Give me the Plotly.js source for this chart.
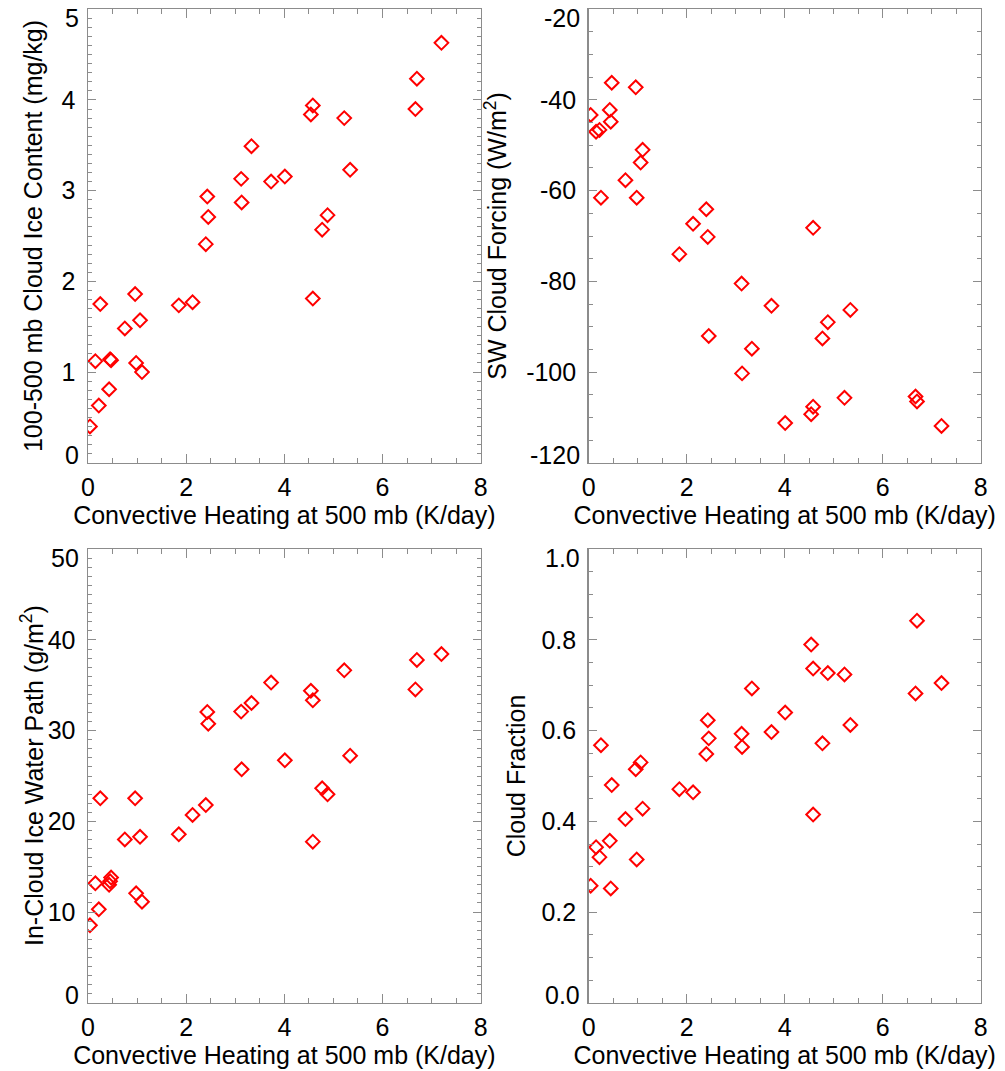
<!DOCTYPE html>
<html>
<head>
<meta charset="utf-8">
<script src="https://cdn.plot.ly/plotly-3.0.1.min.js"></script>
<style>html,body{margin:0;padding:0;background:#fff;}#chart{width:1005px;height:1071px;}</style>
</head>
<body>
<div id="chart"></div>
<script>
// Convective heating at 500 mb (K/day), shared by all four panels
const heating = [0.04, 0.15, 0.22, 0.25, 0.43, 0.45, 0.47, 0.75, 0.96, 0.98, 1.06, 1.10,
  1.85, 2.13, 2.40, 2.43, 2.45, 3.12, 3.13, 3.33, 3.73, 4.01, 4.54, 4.58, 4.58,
  4.77, 4.88, 5.22, 5.34, 6.67, 6.70, 7.20];
// 100-500 mb cloud ice content (mg/kg)
const iceContent = [0.40, 1.12, 0.63, 1.75, 0.81, 1.14, 1.13, 1.48, 1.86, 1.10, 1.57, 1.00,
  1.735, 1.77, 2.41, 2.935, 2.71, 3.13, 2.87, 3.49, 3.10, 3.155, 3.84, 3.94, 1.81,
  2.57, 2.73, 3.80, 3.23, 3.90, 4.235, 4.63];
// SW cloud forcing (W/m2)
const swForcing = [-43.3, -47.0, -46.6, -61.55, -42.2, -44.8, -36.2, -57.7, -37.2, -61.55, -53.8, -51.0,
  -74.0, -67.3, -64.1, -70.2, -92.05, -80.5, -100.3, -94.85, -85.4, -111.25, -109.3, -107.65, -68.2,
  -92.6, -89.0, -105.7, -86.3, -105.4, -106.5, -111.9];
// In-cloud ice water path (g/m2)
const iwp = [8.54, 13.17, 10.3, 22.54, 13.0, 13.4, 13.8, 18.0, 22.54, 12.06, 18.3, 11.14,
  18.57, 20.7, 21.8, 32.06, 30.77, 32.1, 25.74, 33.05, 35.3, 26.73, 34.4, 33.35, 17.76,
  23.64, 22.98, 36.65, 27.24, 34.55, 37.8, 38.45];
// Cloud fraction
const cloudFrac = [0.258, 0.343, 0.321, 0.568, 0.357, 0.252, 0.48, 0.405, 0.515, 0.316, 0.530, 0.428,
  0.471, 0.464, 0.5485, 0.623, 0.583, 0.593, 0.564, 0.693, 0.597, 0.640, 0.790, 0.737, 0.415,
  0.572, 0.727, 0.724, 0.6125, 0.682, 0.8425, 0.705];

// Tick values and labels
const xTickVals = [0, 2, 4, 6, 8];
const xTickText = ['0', '2', '4', '6', '8'];
const yTickVals = [
  [0, 1, 2, 3, 4, 5],
  [-120, -100, -80, -60, -40, -20],
  [0, 10, 20, 30, 40, 50],
  [0, 0.2, 0.4, 0.6, 0.8, 1.0]
];
const yTickText = [
  ['0', '1', '2', '3', '4', '5'],
  ['-120', '-100', '-80', '-60', '-40', '-20'],
  ['0', '10', '20', '30', '40', '50'],
  ['0.0', '0.2', '0.4', '0.6', '0.8', '1.0']
];

const xTitle = 'Convective Heating at 500 mb (K/day)';
const yTitles = ['100-500 mb Cloud Ice Content (mg/kg)', 'SW Cloud Forcing (W/m<sup>2</sup>)',
  'In-Cloud Ice Water Path (g/m<sup>2</sup>)', 'Cloud Fraction'];

const W = 1005, H = 1071;
const FONT = {family: 'Liberation Sans, Arial, sans-serif', size: 25, color: '#000'};
const GREY = '#8c8c8c';

const marker = {symbol: 'diamond-open', size: 10.5, color: '#ff0000', line: {width: 2, color: '#ff0000'}};
const ys = [iceContent, swForcing, iwp, cloudFrac];
const traces = ys.map((y, i) => ({
  type: 'scatter', mode: 'markers', x: heating, y: y,
  xaxis: i === 0 ? 'x' : 'x' + (i + 1), yaxis: i === 0 ? 'y' : 'y' + (i + 1),
  marker: marker, hoverinfo: 'x+y', showlegend: false
}));

const xd = [[88 / W, 480.7 / W], [588.7 / W, 980.7 / W]];
const yd = [[1 - 462.7 / H, 1 - 9.3 / H], [1 - 1002.7 / H, 1 - 549.3 / H]];
const yMinor = [0.1, 5, 1, 0.05];
const yTitleStandoff = [12, 12, 0, 8];

function xaxis(i) {
  return {
    domain: xd[i % 2], range: [xTickVals[0], xTickVals[xTickVals.length - 1]],
    tickvals: xTickVals, ticktext: xTickText, anchor: i === 0 ? 'y' : 'y' + (i + 1),
    showgrid: false, zeroline: false, showline: true, linecolor: GREY, linewidth: 1.5, mirror: 'ticks',
    ticks: 'inside', ticklen: 9, tickcolor: GREY, tickwidth: 1,
    minor: {dtick: 0.5, tick0: 0, ticks: 'inside', ticklen: 5, tickcolor: GREY, tickwidth: 1, showgrid: false},
    tickfont: FONT, ticklabelstandoff: 2, automargin: false,
    title: {text: xTitle, font: FONT, standoff: 6}
  };
}
function yaxis(i) {
  const v = yTickVals[i], t = yTickText[i];
  const n = v.length;
  const ax = {
    domain: yd[Math.floor(i / 2)], range: [v[0], v[n - 1]],
    // inner labels on the axis; end labels drawn as annotations, nudged inside like the reference
    tickvals: v.slice(1, n - 1), ticktext: t.slice(1, n - 1),
    anchor: i === 0 ? 'x' : 'x' + (i + 1),
    showgrid: false, zeroline: false, showline: true, linecolor: GREY, linewidth: 1.5, mirror: 'ticks',
    ticks: 'inside', ticklen: 8, tickcolor: GREY, tickwidth: 1,
    minor: {dtick: yMinor[i], tick0: 0, ticks: 'inside', ticklen: 4, tickcolor: GREY, tickwidth: 1, showgrid: false},
    tickfont: FONT, ticklabelstandoff: 6, automargin: false
  };
  if (i !== 2) ax.title = {text: yTitles[i], font: FONT, standoff: yTitleStandoff[i]};
  return ax;
}

const annotations = [];
for (let i = 0; i < 4; i++) {
  const v = yTickVals[i], t = yTickText[i];
  const yref = i === 0 ? 'y' : 'y' + (i + 1);
  const xl = xd[i % 2][0];
  [[0, 8], [v.length - 1, -9]].forEach(([k, sh]) => {
    annotations.push({
      xref: 'paper', yref: yref, x: xl, y: v[k], text: t[k], showarrow: false,
      xanchor: 'right', yanchor: 'middle', xshift: -7, yshift: sh, font: FONT
    });
  });
}
// bottom-left y title placed close to the top-left one
annotations.push({
  xref: 'paper', yref: 'paper', x: 32 / W, y: (yd[1][0] + yd[1][1]) / 2, text: yTitles[2],
  textangle: -90, showarrow: false, xanchor: 'center', yanchor: 'middle', font: FONT
});

const layout = {
  width: W, height: H, margin: {l: 0, r: 0, t: 0, b: 0},
  paper_bgcolor: '#fff', plot_bgcolor: '#fff', font: FONT, showlegend: false,
  annotations: annotations
};
for (let i = 0; i < 4; i++) {
  layout[i === 0 ? 'xaxis' : 'xaxis' + (i + 1)] = xaxis(i);
  layout[i === 0 ? 'yaxis' : 'yaxis' + (i + 1)] = yaxis(i);
}
Plotly.newPlot('chart', traces, layout, {displayModeBar: false, staticPlot: true});
</script>
</body>
</html>
